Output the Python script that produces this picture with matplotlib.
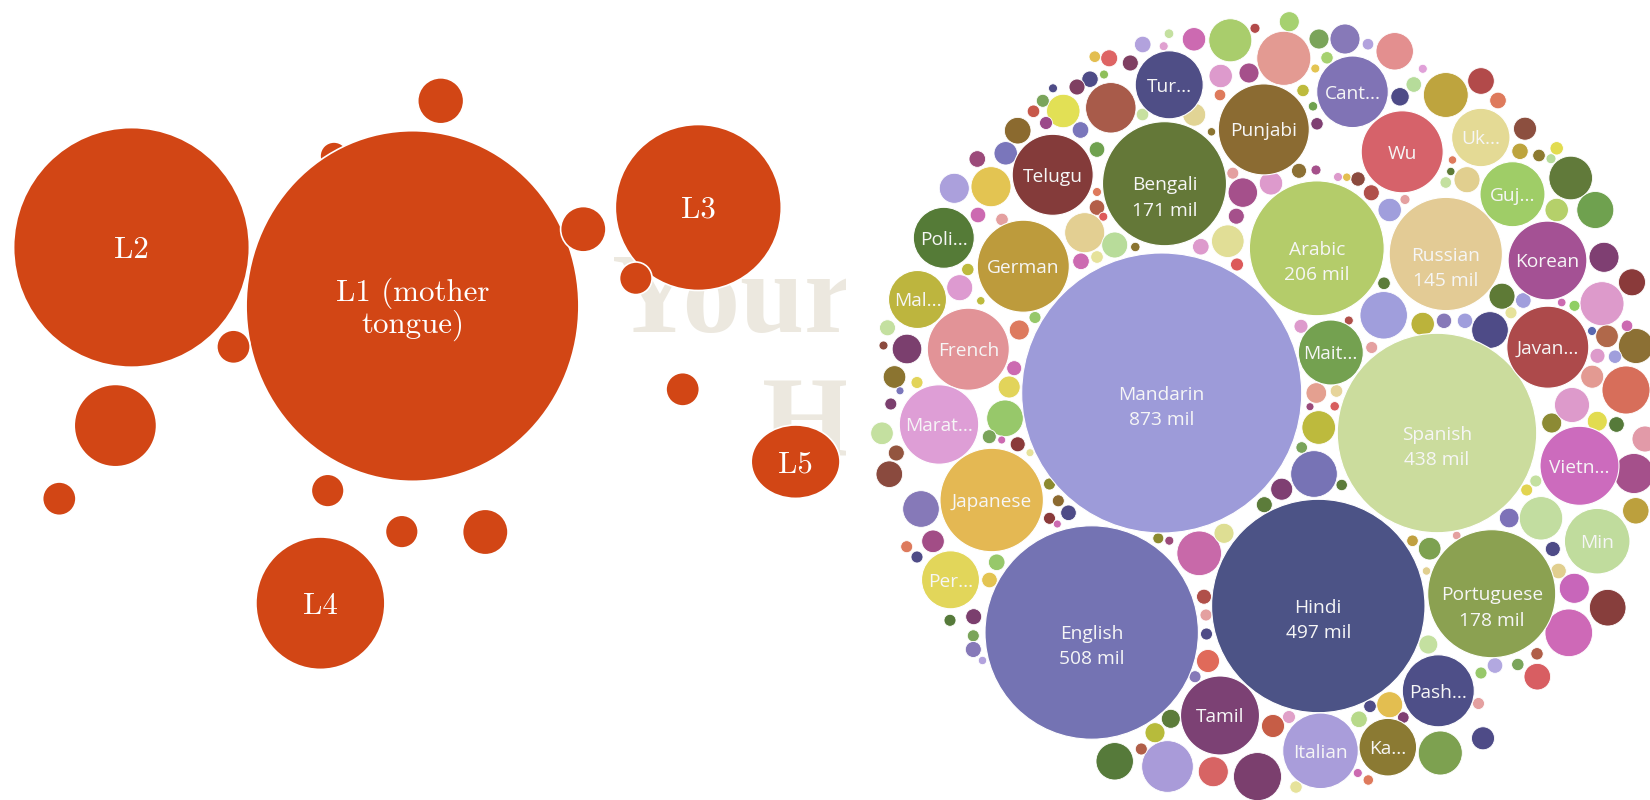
import matplotlib
matplotlib.use("Agg")
import matplotlib.pyplot as plt
from matplotlib.patches import Ellipse, Circle
from matplotlib.collections import PatchCollection

# ---------------- left panel: orange bubbles (pixel-like data units) ----------------
l_labels = ["L1 (mother\ntongue)", "L2", "L3", "L4", "L5"]
l_x = [412.5, 131.5, 698.3, 320.4, 795.6]
l_y = [306.0, 247.4, 207.5, 603.2, 461.7]
l_w = [332.8, 235.8, 166.0, 129.0, 88.8]
l_h = [350.6, 239.6, 166.0, 132.4, 73.4]

dot_x = [440.7, 583.3, 635.8, 233.5, 115.4, 59.3, 327.7, 401.8, 485.3, 682.7]
dot_y = [100.8, 229.2, 278.3, 346.8, 425.6, 498.7, 490.6, 531.6, 532.0, 389.3]
dot_d = [46.0, 45.4, 32.6, 33.4, 82.4, 33.4, 32.8, 32.8, 45.5, 33.4]

under_x = [334.0]
under_y = [156.0]
under_d = [28.0]

wm_lines = ["Your", "H"]
wm_x = [612, 762]
wm_y = [332, 457]

# ---------------- right panel: packed language bubbles ----------------
lang_names = ["Mandarin", "English", "Hindi", "Spanish", "Arabic", "Portuguese", "Bengali",
              "Russian", "Japanese", "German", "Punjabi", "Javan...", "Wu", "French", "Telugu",
              "Tamil", "Marat...", "Vietn...", "Korean", "Italian", "Pash...", "Cant...",
              "Tur...", "Min", "Guj...", "Mait...", "Poli...", "Uk...", "Mal...", "Per...", "Ka..."]
lang_values = ["873 mil", "508 mil", "497 mil", "438 mil", "206 mil", "178 mil", "171 mil",
               "145 mil", "", "", "", "", "", "", "", "", "", "", "", "", "", "", "", "", "",
               "", "", "", "", "", ""]
lang_x = [1161.7, 1091.7, 1318.3, 1437.0, 1316.8, 1491.7, 1164.5, 1445.8, 991.7, 1023.3,
          1263.8, 1547.8, 1402.2, 968.3, 1052.7, 1220.0, 939.0, 1579.5, 1547.5, 1320.5,
          1438.3, 1352.5, 1169.2, 1597.2, 1512.5, 1330.8, 943.8, 1480.8, 917.5, 950.5, 1387.8]
lang_y = [393.0, 632.5, 606.0, 433.0, 248.3, 593.7, 183.7, 254.0, 500.0, 266.2,
          129.4, 347.2, 151.8, 349.2, 174.8, 715.5, 424.5, 465.8, 260.5, 750.8,
          690.8, 91.8, 84.8, 541.2, 194.2, 352.5, 237.8, 137.5, 299.5, 579.8, 747.2]
lang_r = [140.0, 106.7, 106.7, 99.7, 67.4, 64.0, 62.0, 56.6, 51.7, 46.0,
          45.5, 41.0, 41.0, 41.0, 40.5, 39.5, 39.7, 39.5, 39.4, 37.8,
          36.0, 35.8, 34.0, 32.8, 32.5, 32.5, 30.5, 29.2, 29.0, 29.0, 28.8]
lang_colors = ["#9d9bd9", "#7473b3", "#4c5386", "#cbdc9d", "#b4cc6a", "#8ba151", "#647838",
               "#e3cb95", "#e4b853", "#bd9b3c", "#8b6b32", "#ad4a4b", "#d6626a", "#e29397",
               "#843b3a", "#7c4174", "#de9ed6", "#cc6bbd", "#a45194", "#a99dda", "#4e4f88",
               "#8073b5", "#4f4e86", "#c0dc9d", "#9fcd67", "#74a150", "#557b37", "#e4da95",
               "#bdb53e", "#e2d65a", "#8b7a33"]

small_x = [1110.8, 1063.3, 991.0, 954.3, 1084.7, 1114.7, 1230.3, 1194.0, 1220.7, 1017.7,
           1005.7, 977.3, 959.7, 894.5, 907.0, 887.5, 1019.3, 1142.7, 1169.0, 1163.7,
           1130.3, 1109.2, 1094.8, 1090.0, 1077.0, 1104.0, 1053.0, 1042.8, 1033.5, 1046.0,
           1080.5, 1097.0, 1142.5, 1194.2, 1211.5, 1220.0, 1097.0, 1097.0, 1103.3, 1002.0,
           978.0, 1135.3, 1081.0, 1097.0, 967.8, 1035.0, 980.8, 1014.2, 1009.2, 917.0,
           900.0, 883.5, 1200.8, 1227.8, 1237.0, 1242.8, 1236.3, 1232.8, 1271.0, 1249.0,
           1255.0,
           1283.8, 1394.7, 1345.0, 1319.0, 1289.3, 1445.8, 1481.0, 1498.0, 1525.0, 1570.7,
           1595.3, 1556.7, 1604.0, 1632.0, 1602.0, 1383.7, 1490.0, 1502.0, 1422.7, 1636.0,
           1626.0, 1592.2, 1299.0, 1316.0, 1317.0, 1313.0, 1303.0, 1315.3, 1327.0, 1368.0,
           1400.0, 1413.8, 1422.8, 1358.0, 1371.3, 1346.8, 1338.0, 1389.7, 1405.0, 1452.5,
           1450.8, 1445.8, 1467.0, 1520.0, 1556.7, 1539.0, 1551.0, 1384.0, 1444.0, 1465.0,
           1523.3, 1511.0, 1574.5, 1561.7, 1592.0, 1627.0, 1607.0, 1597.5, 1615.0, 1371.7,
           1348.8, 1316.3, 1336.5, 1301.0, 1318.7, 1310.0, 1334.7, 1301.7,
           1314.0, 1281.7, 1264.3, 1341.7, 1412.5, 1456.7, 1426.5, 1389.7, 1428.3, 1429.7,
           1635.8, 1634.0, 1645.0, 1551.7, 1597.3, 1616.5, 1572.0, 1541.0, 1509.2, 1568.8,
           1574.3, 1607.7, 1505.8, 1537.3, 1483.0, 1440.3, 1537.0, 1517.8, 1495.0, 1481.0,
           1478.5, 1535.8, 1526.7, 1552.8, 1558.5, 1273.0, 1257.5, 1359.0, 1370.0, 1403.3,
           1289.0, 1296.0, 1357.8, 1368.3,
           1005.0, 921.0, 889.3, 896.3, 882.0, 933.0, 906.7, 917.0, 996.7, 989.5,
           973.7, 950.0, 973.3, 973.3, 982.5, 1114.7, 1167.5, 1213.3, 1199.2, 1224.0,
           1155.0, 1170.8, 1141.3, 1204.0, 1206.0, 1206.5, 1208.0, 1195.0, 1049.5, 1058.3,
           1068.5, 1049.5, 1057.3, 890.8, 989.3, 1001.7, 1017.7, 1030.0, 1158.3, 1169.3]
small_y = [107.8, 111.0, 186.7, 188.3, 232.7, 245.0, 40.3, 39.3, 76.0, 130.7,
           153.3, 159.0, 287.7, 377.0, 349.0, 327.8, 330.0, 44.5, 33.7, 46.2,
           63.0, 58.3, 56.7, 79.2, 87.0, 74.5, 88.3, 100.8, 111.3, 123.0,
           130.0, 149.5, 114.5, 114.7, 131.8, 95.0, 192.0, 207.5, 216.7, 219.5,
           215.0, 247.0, 261.3, 257.0, 269.5, 317.5, 300.8, 368.2, 387.0, 382.5,
           390.8, 345.5, 246.7, 241.2, 264.5, 192.6, 216.2, 173.2, 183.3, 73.0,
           28.3,
           58.3, 51.3, 39.0, 39.0, 21.7, 95.0, 81.0, 100.5, 128.7, 178.0,
           210.0, 210.0, 257.3, 282.3, 303.7, 315.3, 330.0, 296.2, 324.0, 346.0,
           390.0, 376.7, 170.8, 170.0, 123.8, 106.3, 90.5, 68.5, 57.8, 44.2,
           96.8, 84.5, 68.8, 179.0, 192.8, 177.2, 177.0, 210.0, 199.5, 160.0,
           171.5, 182.5, 179.7, 151.3, 148.3, 155.5, 158.7, 283.3, 320.8, 320.8,
           300.5, 312.8, 305.8, 302.5, 331.0, 325.8, 336.3, 355.8, 356.7, 347.5,
           320.5, 393.0, 391.0, 326.3, 427.5, 406.7, 406.3, 447.5,
           474.0, 489.2, 504.7, 485.0, 540.8, 535.5, 571.0, 704.7, 644.5, 548.7,
           510.8, 473.5, 439.0, 423.0, 421.3, 424.5, 405.0, 518.3, 518.0, 632.8,
           588.3, 607.7, 633.3, 676.7, 738.3, 753.0, 653.8, 664.5, 665.5, 673.0,
           703.5, 481.0, 490.0, 549.0, 571.0, 726.0, 776.6, 719.3, 706.3, 717.5,
           717.0, 787.0, 773.0, 780.0,
           418.3, 509.0, 474.2, 453.0, 433.3, 541.3, 546.7, 557.0, 562.3, 580.0,
           616.7, 620.3, 635.8, 649.5, 660.5, 761.3, 766.5, 771.7, 553.3, 533.3,
           732.7, 718.8, 749.0, 596.7, 615.0, 634.0, 661.0, 676.7, 484.0, 500.8,
           512.8, 518.3, 524.0, 404.0, 436.7, 440.0, 444.3, 452.7, 538.3, 540.7]
small_r = [25.2, 16.7, 20.0, 15.0, 20.0, 13.0, 21.5, 11.7, 11.7, 13.3,
           11.7, 8.3, 13.0, 11.3, 14.8, 8.0, 10.0, 8.3, 4.8, 4.5,
           8.0, 8.5, 5.8, 8.2, 8.0, 4.5, 4.5, 6.5, 6.3, 6.5,
           8.3, 7.8, 6.3, 11.5, 4.2, 5.8, 4.5, 7.8, 4.5, 6.3,
           7.8, 4.7, 8.3, 6.3, 6.2, 6.0, 4.2, 7.5, 11.0, 6.0,
           4.0, 4.5, 8.3, 16.3, 6.5, 14.7, 8.0, 6.0, 11.7, 10.0,
           5.0,
           27.0, 18.7, 15.0, 10.0, 10.0, 22.4, 13.3, 8.3, 11.5, 21.8,
           18.5, 11.7, 15.0, 13.5, 22.0, 23.7, 18.3, 13.0, 11.7, 17.5,
           24.0, 11.5, 7.5, 5.0, 6.2, 4.7, 6.2, 4.5, 6.2, 5.8,
           9.2, 7.8, 4.5, 7.2, 8.0, 4.2, 4.5, 11.7, 5.0, 4.2,
           4.2, 5.8, 13.0, 8.2, 6.7, 6.3, 5.0, 6.3, 7.7, 7.7,
           7.8, 6.0, 5.5, 4.3, 4.5, 5.8, 11.3, 7.5, 6.7, 6.0,
           4.5, 10.3, 6.3, 7.0, 16.8, 4.0, 4.7, 5.8,
           23.3, 11.0, 8.0, 5.7, 5.8, 4.3, 4.2, 13.0, 9.5, 11.3,
           13.2, 20.0, 13.0, 10.0, 10.0, 7.8, 17.5, 21.7, 9.8, 23.8,
           15.0, 18.3, 20.0, 13.3, 11.5, 22.0, 6.2, 6.2, 7.8, 6.0,
           6.0, 6.0, 6.0, 7.5, 7.8, 11.5, 24.0, 8.3, 6.3, 5.8,
           6.5, 6.2, 4.5, 5.2,
           18.3, 18.3, 13.3, 8.0, 11.3, 11.3, 6.0, 6.0, 8.3, 7.8,
           8.0, 6.0, 6.0, 8.0, 4.2, 18.7, 25.8, 15.0, 22.3, 10.0,
           10.0, 9.5, 6.0, 7.5, 6.0, 6.0, 11.5, 6.0, 6.0, 6.0,
           7.8, 6.0, 4.0, 6.0, 7.0, 4.0, 7.5, 4.0, 5.5, 4.5]
small_colors = ["#a85b4a", "#e2e055", "#e3c452", "#aba0dc", "#e3cf92", "#b8dc9a", "#a9cd6c",
                "#cc6ab1", "#dd9acc", "#8b6a2f", "#7a76bb", "#9b4a7a", "#dd9ad0", "#8b7430",
                "#7b3f6e", "#c4e0a0", "#dd7a5e", "#b2a2dd", "#c4e0a0", "#e0a0d0", "#7f3f62",
                "#de6464", "#e3be50", "#4e4b87", "#7f3f62", "#8fbf5a", "#4e4b87", "#7aa45a",
                "#c7584a", "#9b4a8a", "#7a76bb", "#6fa14f", "#c7e0a0", "#e1d495", "#8b7430",
                "#de7a5c", "#de7a5c", "#b35e48", "#de5a5a", "#e4a0a0", "#cc6ab1", "#8b7430",
                "#cc6ab1", "#e6e29a", "#bdba3d", "#97c86a", "#bdba3d", "#cc6ab1", "#e2d45a",
                "#e2d45a", "#7a76bb", "#8b4a3e", "#dd9acc", "#e1de96", "#dc5a5a", "#a5508b",
                "#a5508b", "#e4a0a0", "#dd9acc", "#a5508b", "#b24a4a",
                "#e39a92", "#e38f8f", "#8779b8", "#7aa45a", "#a6d170", "#bea43e", "#b24a4a",
                "#de7a5c", "#8c4f3f", "#617a3a", "#6fa14f", "#b5d06a", "#7f3f72", "#8a3a3a",
                "#dd9acb", "#a09edc", "#4e4b87", "#5e7a36", "#bbb33b", "#8c7034", "#d76e5a",
                "#e39a92", "#8c7034", "#a5508b", "#7f3f72", "#6fa14f", "#bdba3d", "#e3c452",
                "#a6d170", "#b2a2dd", "#4e4b87", "#b6dc9a", "#e0a0d8", "#8b4a3e", "#b0504a",
                "#e3be50", "#dd9acc", "#a09edc", "#e4a0a0", "#de7a5c", "#5e7a36", "#c4e0a0",
                "#e1cf8f", "#bda43d", "#e2dc50", "#8c7a30", "#b6dc9a", "#5c7c3a", "#8779b8",
                "#a09edc", "#a09edc", "#e6e29a", "#8fcf63", "#cc6ab1", "#5a68b0", "#cc6ab1",
                "#b0684a", "#dd9acb", "#a09edc", "#e4a0a0", "#b0504a", "#e4a090", "#e6d49a",
                "#dd9acc", "#bdba3d", "#9b4a7a", "#d85e5e", "#7aa45a",
                "#7773b5", "#7f3f72", "#5c7c3a", "#5c7c3a", "#c0a040", "#e4a0a0", "#e1cf8f",
                "#e3be50", "#c4e0a0", "#7da150", "#bca03d", "#a5508b", "#e29aa8", "#8c8a34",
                "#e2dc50", "#567a3a", "#dd9acb", "#c2dda0", "#7d72b8", "#ce69b7", "#c866ba",
                "#873e3c", "#a3508b", "#d85e62", "#4e4b87", "#7da150", "#b05e48", "#7aa45a",
                "#b2a8e0", "#97c86a", "#e4a0a0", "#c4e0a0", "#e2d450", "#4e4b87", "#e1cf8f",
                "#c65d46", "#7b3f6e", "#b7d98a", "#4e4b87", "#7f3f72", "#e0a0c8", "#e6e29a",
                "#cc6ab1", "#de7a5c",
                "#97c86a", "#8679b8", "#8a4a3e", "#93553f", "#c4e0a0", "#a24d86", "#dd7a5c",
                "#4e4b87", "#97c86a", "#e3c452", "#7b3f6e", "#567a3a", "#7aa45a", "#8679b8",
                "#b2a2dd", "#567a3a", "#a99bd9", "#d76464", "#c869a9", "#dede93", "#b7bb3b",
                "#5c7c3a", "#b05e48", "#b0504a", "#e4a0a0", "#4e4b87", "#e06a5a", "#8679b8",
                "#8c8a30", "#8c6a30", "#4e4b87", "#8a3a3a", "#cc6ab1", "#7b3f6e", "#7aa45a",
                "#cc6ab1", "#8a3a3a", "#e6e29a", "#8c8a30", "#9b4a7a"]

ORANGE = "#d24615"
W, H = 1650, 800
SPLIT = 846

fig = plt.figure(figsize=(16.5, 8), dpi=100)
fig.patch.set_facecolor("white")

axL = fig.add_axes([0, 0, SPLIT / W, 1])
axL.set_xlim(0, SPLIT)
axL.set_ylim(H, 0)
axL.axis("off")

axR = fig.add_axes([SPLIT / W, 0, (W - SPLIT) / W, 1])
axR.set_xlim(SPLIT, W)
axR.set_ylim(H, 0)
axR.axis("off")

# watermark heading text (clipped by the left panel)
for s, x, y in zip(wm_lines, wm_x, wm_y):
    axL.text(x, y, s, ha="left", va="baseline", fontsize=83,
             family="Liberation Serif", weight="bold", color="#ece8df",
             clip_on=True, zorder=0)

for x, y, d in zip(under_x, under_y, under_d):
    axL.add_patch(Ellipse((x, y), d, d, facecolor=ORANGE, edgecolor="white",
                          linewidth=1.2, zorder=1))

for x, y, w, h in zip(l_x, l_y, l_w, l_h):
    axL.add_patch(Ellipse((x, y), w, h, facecolor=ORANGE, edgecolor="white",
                          linewidth=1.2, zorder=2))

for x, y, d in zip(dot_x, dot_y, dot_d):
    axL.add_patch(Ellipse((x, y), d, d, facecolor=ORANGE, edgecolor="white",
                          linewidth=1.2, zorder=3))

cap_L = 21.0
pitch_L = 31.8
for lab, x, y in zip(l_labels, l_x, l_y):
    lines = lab.split("\n")
    n = len(lines)
    for k, line in enumerate(lines):
        by = y + cap_L / 2 + (k - (n - 1) / 2) * pitch_L
        axL.text(x, by, line, ha="center", va="baseline", fontsize=22.3,
                 family="cmr10", color="white", zorder=5)

# right packed bubbles
circles = [Circle((x, y), r) for x, y, r in zip(small_x, small_y, small_r)]
pc = PatchCollection(circles, facecolors=small_colors, edgecolors="white",
                     linewidths=0.6, zorder=2)
axR.add_collection(pc)

big = [Circle((x, y), r) for x, y, r in zip(lang_x, lang_y, lang_r)]
pc2 = PatchCollection(big, facecolors=lang_colors, edgecolors="white",
                      linewidths=0.8, zorder=3)
axR.add_collection(pc2)

cap_R = 13.6
for name, val, x, y in zip(lang_names, lang_values, lang_x, lang_y):
    axR.text(x, y + cap_R / 2, name, ha="center", va="baseline", fontsize=13.8,
             family="Open Sans", color="#f6f6f6", zorder=5)
    if val:
        axR.text(x, y + cap_R / 2 + 25, val, ha="center", va="baseline", fontsize=13.8,
                 family="Open Sans", color="#f6f6f6", zorder=5)

fig.savefig("out.png", dpi=100, facecolor="white")
